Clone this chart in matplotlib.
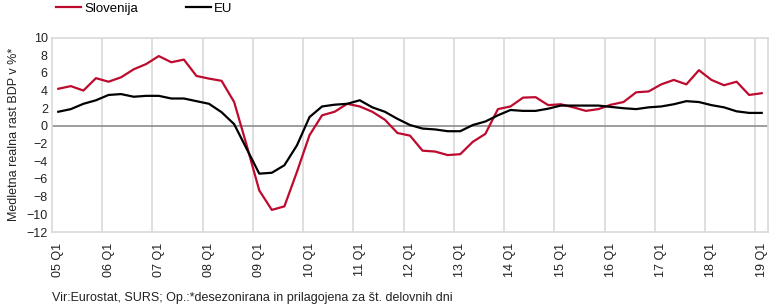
import matplotlib
matplotlib.use('Agg')
import matplotlib.pyplot as plt

plt.rcParams['font.family'] = ['Liberation Sans', 'DejaVu Sans']

# quarterly, 2005 Q1 .. 2019 Q1
years = list(range(5, 20))
tick_labels = [f'{y:02d} Q1' for y in years]

slovenija = [4.2, 4.5, 4.0, 5.4, 5.0, 5.5, 6.4, 7.0, 7.9, 7.2,
             7.5, 5.65, 5.35, 5.1, 2.7, -2.2, -7.3, -9.5, -9.1, -5.2,
             -1.05, 1.2, 1.6, 2.5, 2.2, 1.6, 0.7, -0.8, -1.1, -2.8,
             -2.9, -3.3, -3.2, -1.8, -0.9, 1.9, 2.2, 3.2, 3.25, 2.35,
             2.45, 2.1, 1.7, 1.9, 2.4, 2.7, 3.8, 3.9, 4.7, 5.2,
             4.7, 6.3, 5.2, 4.6, 5.0, 3.5, 3.7]
eu = [1.6, 1.9, 2.5, 2.9, 3.5, 3.6, 3.3, 3.4, 3.4, 3.1,
      3.1, 2.8, 2.5, 1.55, 0.2, -2.6, -5.4, -5.3, -4.45, -2.2,
      1.0, 2.2, 2.4, 2.5, 2.9, 2.1, 1.6, 0.8, 0.1, -0.3,
      -0.4, -0.6, -0.6, 0.1, 0.5, 1.2, 1.8, 1.7, 1.7, 1.95,
      2.3, 2.3, 2.3, 2.3, 2.15, 2.0, 1.9, 2.1, 2.2, 2.45,
      2.8, 2.7, 2.35, 2.1, 1.65, 1.47, 1.47]

x = list(range(len(slovenija)))

fig = plt.figure(figsize=(7.69, 3.08), dpi=100)
ax = fig.add_axes([52 / 769, 76 / 308, 716 / 769, 194.5 / 308])

grid_col = '#D9D9D9'
for k in range(1, len(years)):
    ax.axvline(4 * k - 0.5, color=grid_col, lw=1.2, zorder=1)
ax.axhline(0, color='#8C8C8C', lw=1.2, zorder=1)

ax.plot(x, slovenija, color='#BE0A2E', lw=1.6, label='Slovenija', zorder=3)
ax.plot(x, eu, color='black', lw=1.6, label='EU', zorder=3)

ax.set_xlim(-0.5, len(x) - 0.5)
ax.set_ylim(-12, 10)
ax.set_yticks(range(-12, 11, 2))
ax.set_xticks([4 * k for k in range(len(years))])
ax.set_xticklabels(tick_labels, rotation=90, fontsize=9, color='#222222')
ax.tick_params(axis='both', length=0, labelsize=9, labelcolor='#222222')
ax.tick_params(axis='x', pad=8)
ax.tick_params(axis='y', pad=3)
for s in ax.spines.values():
    s.set_color(grid_col)
    s.set_linewidth(1.2)

ax.set_ylabel('Medletna realna rast BDP v %*', fontsize=9, color='#222222', labelpad=5)

fig.legend(loc='center left', bbox_to_anchor=(56 / 769, 1 - 9 / 308), ncol=2,
           frameon=False, fontsize=9.5, handlelength=1.9, handletextpad=0.25,
           columnspacing=3.6, borderaxespad=0, borderpad=0)

fig.text(52 / 769, 1 - 298 / 308,
         'Vir:Eurostat, SURS; Op.:*desezonirana in prilagojena za št. delovnih dni',
         fontsize=9, color='#222222', va='center', ha='left')

fig.savefig('out.png', dpi=100)
